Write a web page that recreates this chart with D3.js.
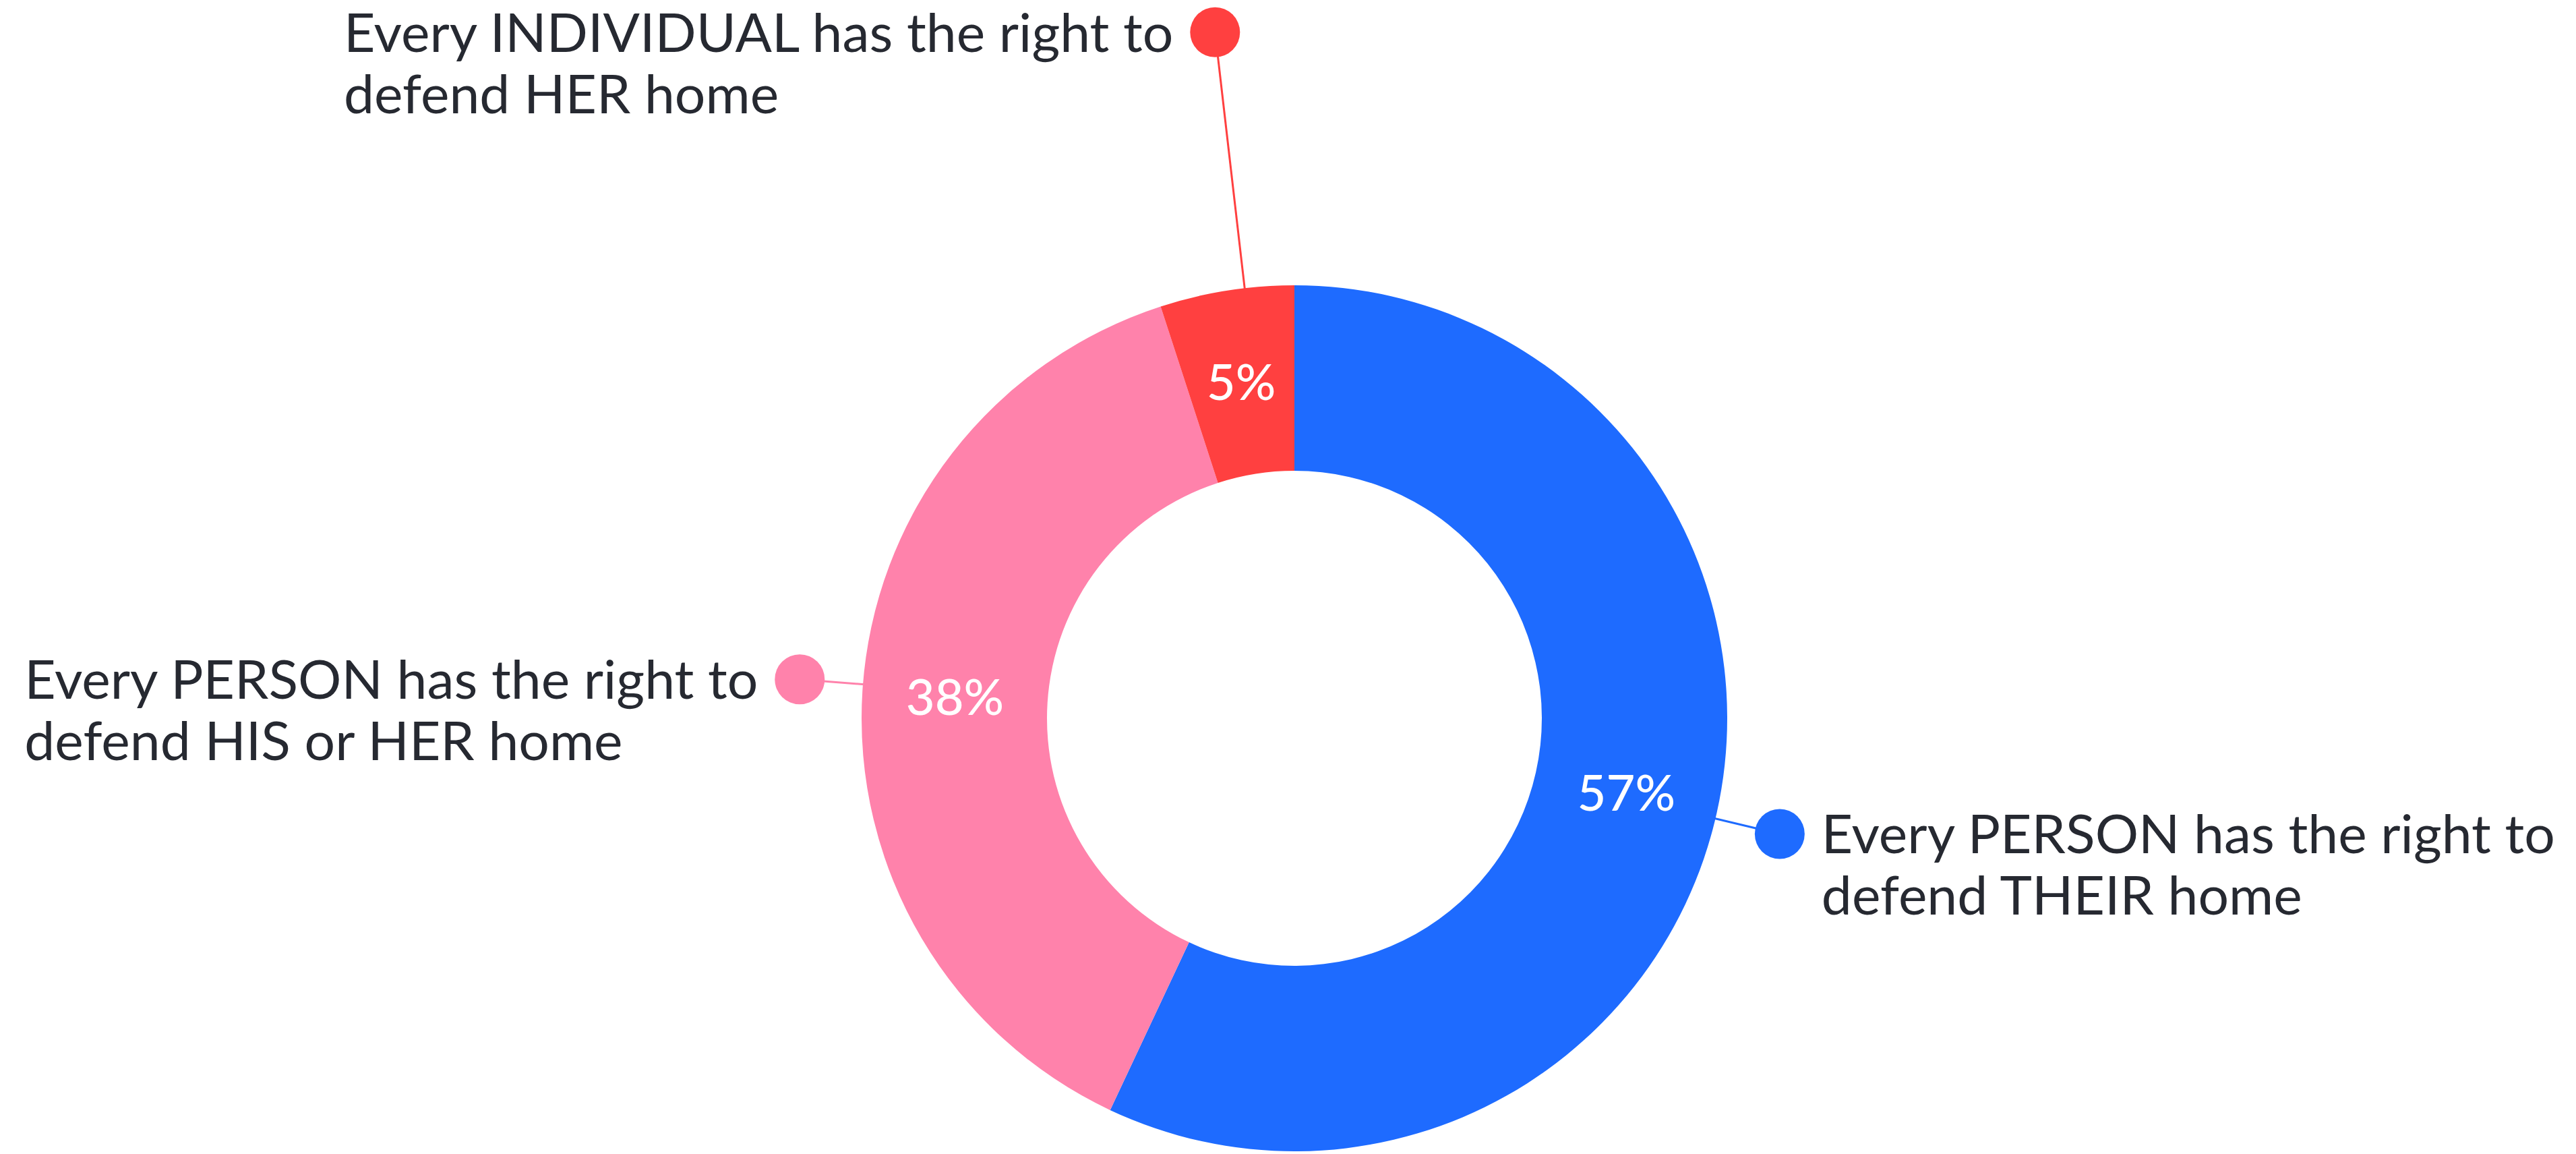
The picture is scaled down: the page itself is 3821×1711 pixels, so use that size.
<!DOCTYPE html>
<html>
<head>
<meta charset="utf-8">
<script src="https://cdn.jsdelivr.net/npm/d3@7"></script>
<style>
body { margin: 0; background: #fff; }
svg { display: block; }
.label { font-family: Lato, "Open Sans", sans-serif; fill: #262931; }
.pct { font-family: Lato, "Open Sans", sans-serif; fill: #fff; font-weight: 500; }
</style>
</head>
<body>
<div id="chart"></div>
<script>
// answers, in drawing order (clockwise from 12 o'clock)
var labelLines = [
  ["Every PERSON has the right to", "defend THEIR home"],
  ["Every PERSON has the right to", "defend HIS or HER home"],
  ["Every INDIVIDUAL has the right to", "defend HER home"]
];
var values = [57, 38, 5];
var colors = ["#1e6bff", "#ff82ab", "#ff4040"];

var width = 3821, height = 1711;
var cx = 1920, cy = 1065, outerR = 642, innerR = 367;

// leader dots: distance from centre and small angle nudge (deg), which side the text goes
var dotDist = [740, 736, 1024],
    dotNudge = [0.8, 0.9, 2.4],
    textSide = ["right", "left", "left"];
var dotR = 37, textGap = 25, lineGap = 91, refWidth = 1088;

var svg = d3.select("#chart").append("svg")
    .attr("width", width)
    .attr("height", height);

var g = svg.append("g")
    .attr("transform", "translate(" + cx + "," + cy + ")");

var pie = d3.pie().sort(null).value(function(d) { return d; });
var arcs = pie(values);

var arc = d3.arc().innerRadius(innerR).outerRadius(outerR);

g.selectAll("path.slice")
    .data(arcs)
  .enter().append("path")
    .attr("class", "slice")
    .attr("d", arc)
    .style("fill", function(d, i) { return colors[i]; });

g.selectAll("text.pct")
    .data(arcs)
  .enter().append("text")
    .attr("class", "pct")
    .attr("x", function(d) { return arc.centroid(d)[0]; })
    .attr("y", function(d) { return arc.centroid(d)[1]; })
    .attr("dy", "0.36em")
    .attr("text-anchor", "middle")
    .style("font-size", "74px")
    .text(function(d) { return d.data + "%"; });

function polar(r, a) { return [r * Math.sin(a), -r * Math.cos(a)]; }
function midAngle(d, i) { return (d.startAngle + d.endAngle) / 2 + dotNudge[i] * Math.PI / 180; }

// font width correction so the text matches the original narrow face
var probe = svg.append("text").attr("class", "label").style("font-size", "79px").text(labelLines[0][0]);
var k = refWidth / probe.node().getComputedTextLength();
probe.remove();

arcs.forEach(function(d, i) {
  var a = midAngle(d, i);
  var p0 = polar(outerR - 2, a), p1 = polar(dotDist[i], a);
  g.append("line")
      .attr("x1", p0[0]).attr("y1", p0[1])
      .attr("x2", p1[0]).attr("y2", p1[1])
      .style("stroke", colors[i])
      .style("stroke-width", 3);
  g.append("circle")
      .attr("cx", p1[0]).attr("cy", p1[1])
      .attr("r", dotR)
      .style("fill", colors[i]);

  var lines = g.append("g");
  var texts = lines.selectAll("text")
      .data(labelLines[i])
    .enter().append("text")
      .attr("class", "label")
      .style("font-size", "79px")
      .attr("y", function(t, j) { return p1[1] + 29 + j * lineGap; })
      .text(function(t) { return t; });
  var blockW = 0;
  texts.each(function() {
    var w = this.getComputedTextLength() * k;
    d3.select(this).attr("textLength", w).attr("lengthAdjust", "spacingAndGlyphs");
    blockW = Math.max(blockW, w);
  });
  var x0 = textSide[i] == "right" ? p1[0] + dotR + textGap : p1[0] - dotR - textGap - blockW;
  texts.attr("x", x0);
});
</script>
</body>
</html>
